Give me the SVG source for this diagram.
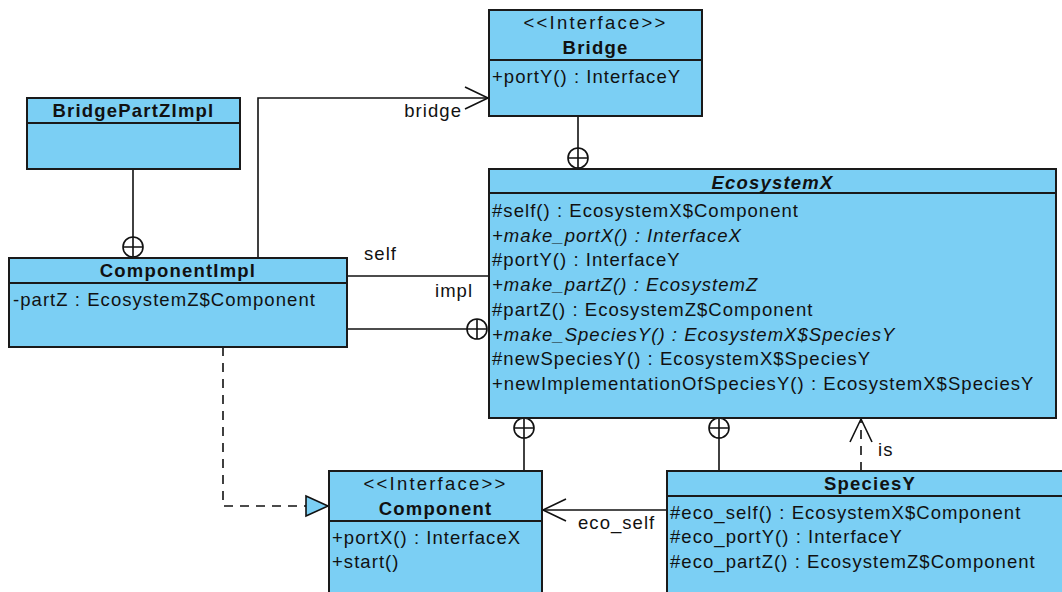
<svg xmlns="http://www.w3.org/2000/svg" width="1062" height="592" viewBox="0 0 1062 592">
  <defs>
    <style>
      .box { fill: #7bcff4; stroke: #1a1a1a; stroke-width: 2; }
      .sep { stroke: #1a1a1a; stroke-width: 2; }
      text { font-family: "Liberation Sans", Arial, sans-serif; font-size: 18.5px; fill: #111; }
      .title { font-weight: bold; text-anchor: middle; letter-spacing: 1.2px; }
      .abs { font-style: italic; }
      .stereo { text-anchor: middle; letter-spacing: 2.2px; }
      .member { letter-spacing: 1.05px; }
      .label { letter-spacing: 1.05px; }
      .line { fill: none; stroke: #111; stroke-width: 1.6; }
      .dash { fill: none; stroke: #111; stroke-width: 1.6; stroke-dasharray: 9 7; }
      .nest { fill: #fff; fill-opacity: 0; stroke: #111; stroke-width: 1.6; }
    </style>
    <marker id="open" markerUnits="userSpaceOnUse" markerWidth="30" markerHeight="30" viewBox="0 0 30 30" refX="26" refY="15" orient="auto">
      <path d="M 3 4 L 26 15 L 3 26" fill="none" stroke="#111" stroke-width="1.6"/>
    </marker>
    <marker id="realize" markerUnits="userSpaceOnUse" markerWidth="30" markerHeight="30" viewBox="0 0 30 30" refX="26" refY="15" orient="auto">
      <path d="M 4 5 L 26 15 L 4 25 Z" fill="#7bcff4" stroke="#111" stroke-width="1.6"/>
    </marker>
    <g id="nestmark">
      <circle r="10" class="nest"/>
      <path d="M -10 0 H 10 M 0 -10 V 10" class="line"/>
    </g>
  </defs>

  <!-- connectors -->
  <g id="connectors">
    <!-- Bridge nested in EcosystemX -->
    <path d="M 578 116 V 148" class="line"/>
    <use href="#nestmark" x="578" y="158"/>
    <!-- BridgePartZImpl nested in ComponentImpl -->
    <path d="M 133 169 V 237" class="line"/>
    <use href="#nestmark" x="133" y="247"/>
    <!-- bridge association -->
    <path d="M 258 258 V 98 H 488" class="line" marker-end="url(#open)"/>
    <text x="462" y="117" class="label" text-anchor="end">bridge</text>
    <!-- self association -->
    <path d="M 347 276 H 489" class="line"/>
    <text x="364" y="260" class="label">self</text>
    <text x="435" y="297" class="label">impl</text>
    <!-- ComponentImpl nested in EcosystemX -->
    <path d="M 347 329 H 467" class="line"/>
    <use href="#nestmark" x="477" y="329"/>
    <!-- ComponentImpl realizes Component -->
    <path d="M 223 347 V 506 H 328" class="dash" marker-end="url(#realize)"/>
    <!-- Component nested in EcosystemX -->
    <path d="M 524 471 V 438" class="line"/>
    <use href="#nestmark" x="524" y="428"/>
    <!-- SpeciesY nested in EcosystemX -->
    <path d="M 719 471 V 438" class="line"/>
    <use href="#nestmark" x="719" y="428"/>
    <!-- is dependency -->
    <path d="M 861 471 V 419" class="dash" marker-end="url(#open)"/>
    <text x="878" y="456" class="label">is</text>
    <!-- eco_self association -->
    <path d="M 667 510 H 543" class="line" marker-end="url(#open)"/>
    <text x="578" y="529" class="label">eco_self</text>
  </g>

  <!-- Bridge -->
  <g id="bridge">
    <rect x="489" y="10" width="213" height="106" class="box"/>
    <line x1="489" y1="60" x2="702" y2="60" class="sep"/>
    <text x="595.5" y="29" class="stereo">&lt;&lt;Interface&gt;&gt;</text>
    <text x="595.5" y="54" class="title">Bridge</text>
    <text x="492" y="83" class="member">+portY() : InterfaceY</text>
  </g>

  <!-- BridgePartZImpl -->
  <g id="bridgepartzimpl">
    <rect x="27" y="98" width="213" height="71" class="box"/>
    <line x1="27" y1="123" x2="240" y2="123" class="sep"/>
    <text x="133.5" y="117" class="title">BridgePartZImpl</text>
  </g>

  <!-- ComponentImpl -->
  <g id="componentimpl">
    <rect x="9" y="258" width="338" height="89" class="box"/>
    <line x1="9" y1="283" x2="347" y2="283" class="sep"/>
    <text x="178" y="277" class="title">ComponentImpl</text>
    <text x="13" y="306" class="member">-partZ : EcosystemZ$Component</text>
  </g>

  <!-- EcosystemX -->
  <g id="ecosystemx">
    <rect x="489" y="169" width="567" height="249" class="box"/>
    <line x1="489" y1="193" x2="1056" y2="193" class="sep"/>
    <text x="772.5" y="189" class="title abs">EcosystemX</text>
    <text x="492" y="217" class="member">#self() : EcosystemX$Component</text>
    <text x="492" y="241.7" class="member abs">+make_portX() : InterfaceX</text>
    <text x="492" y="266.4" class="member">#portY() : InterfaceY</text>
    <text x="492" y="291.1" class="member abs">+make_partZ() : EcosystemZ</text>
    <text x="492" y="315.8" class="member">#partZ() : EcosystemZ$Component</text>
    <text x="492" y="340.5" class="member abs">+make_SpeciesY() : EcosystemX$SpeciesY</text>
    <text x="492" y="365.2" class="member">#newSpeciesY() : EcosystemX$SpeciesY</text>
    <text x="492" y="389.9" class="member">+newImplementationOfSpeciesY() : EcosystemX$SpeciesY</text>
  </g>

  <!-- Component -->
  <g id="component">
    <rect x="329" y="471" width="213" height="130" class="box"/>
    <line x1="329" y1="521" x2="542" y2="521" class="sep"/>
    <text x="435.5" y="490" class="stereo">&lt;&lt;Interface&gt;&gt;</text>
    <text x="435.5" y="515" class="title">Component</text>
    <text x="332" y="544" class="member">+portX() : InterfaceX</text>
    <text x="332" y="568" class="member">+start()</text>
  </g>

  <!-- SpeciesY -->
  <g id="speciesy">
    <rect x="667" y="471" width="406" height="130" class="box"/>
    <line x1="667" y1="496" x2="1073" y2="496" class="sep"/>
    <text x="870" y="490" class="title">SpeciesY</text>
    <text x="670" y="519" class="member">#eco_self() : EcosystemX$Component</text>
    <text x="670" y="543" class="member">#eco_portY() : InterfaceY</text>
    <text x="670" y="568" class="member">#eco_partZ() : EcosystemZ$Component</text>
  </g>
</svg>
